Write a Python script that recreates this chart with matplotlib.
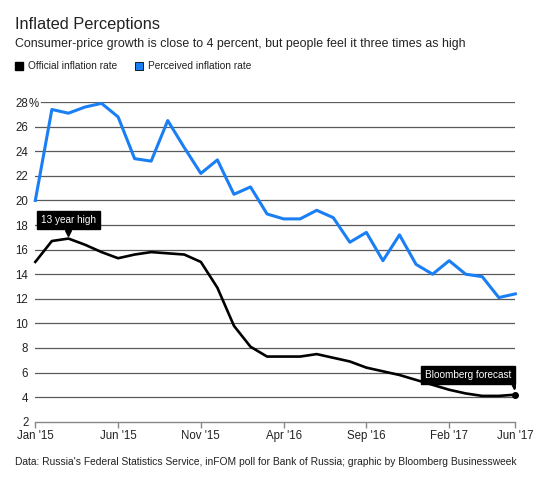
import matplotlib.pyplot as plt
import numpy as np

# monthly data, Jan 2015 .. Jun 2017
months = ["Jan '15", "Feb '15", "Mar '15", "Apr '15", "May '15", "Jun '15",
          "Jul '15", "Aug '15", "Sep '15", "Oct '15", "Nov '15", "Dec '15",
          "Jan '16", "Feb '16", "Mar '16", "Apr '16", "May '16", "Jun '16",
          "Jul '16", "Aug '16", "Sep '16", "Oct '16", "Nov '16", "Dec '16",
          "Jan '17", "Feb '17", "Mar '17", "Apr '17", "May '17", "Jun '17"]
official = [15.0, 16.7, 16.9, 16.4, 15.8, 15.3, 15.6, 15.8, 15.7, 15.6, 15.0, 12.9,
            9.8, 8.1, 7.3, 7.3, 7.3, 7.5, 7.2, 6.9, 6.4, 6.1, 5.8, 5.4,
            5.0, 4.6, 4.3, 4.1, 4.1, 4.2]
perceived = [20.0, 27.4, 27.1, 27.6, 27.9, 26.8, 23.4, 23.2, 26.5, 24.3, 22.2, 23.3,
             20.5, 21.1, 18.9, 18.5, 18.5, 19.2, 18.6, 16.6, 17.4, 15.1, 17.2, 14.8,
             14.0, 15.1, 14.0, 13.8, 12.1, 12.4]
tick_months = ["Jan '15", "Jun '15", "Nov '15", "Apr '16", "Sep '16", "Feb '17", "Jun '17"]
y_ticks = [2, 4, 6, 8, 10, 12, 14, 16, 18, 20, 22, 24, 26, 28]

BLUE = "#1a7ff5"
TXT = "#222222"
plt.rcParams['font.family'] = ['Liberation Sans', 'DejaVu Sans']

x = np.arange(len(months))

fig = plt.figure(figsize=(5.5, 4.84), dpi=100)
ax = fig.add_axes([0.0642, 0.1287, 0.8728, 0.6603])

# gridlines (top one leaves room for the % sign)
for v in y_ticks[1:]:
    start = 6 / 480 if v == y_ticks[-1] else 0
    ax.axhline(v, xmin=start, color="#5a5a5a", lw=0.9, zorder=1)

ax.plot(x, perceived, color=BLUE, lw=2.2, zorder=3, clip_on=False)
ax.plot(x, official, color="black", lw=1.9, zorder=3, clip_on=False)
ax.plot(x[-1], official[-1], "o", color="black", ms=4, zorder=4, clip_on=False)

ax.set_xlim(0, len(months) - 1)
ax.set_ylim(2, 28)

tick_pos = [months.index(m) for m in tick_months]
ax.set_xticks(tick_pos)
ax.set_xticklabels(tick_months, fontsize=8.3, color=TXT)
ax.tick_params(axis="x", length=4, width=1, color="#888888", pad=2)

ax.set_yticks(y_ticks)
ax.set_yticklabels([str(v) for v in y_ticks], fontsize=8.3, color=TXT)
ax.tick_params(axis="y", length=0, pad=5)
ax.annotate("%", xy=(0, y_ticks[-1]), xycoords=("axes fraction", "data"),
            xytext=(-5, 0), textcoords="offset points", ha="left", va="center_baseline",
            fontsize=8.3, color=TXT)

for s in ["top", "right", "left"]:
    ax.spines[s].set_visible(False)
ax.spines["bottom"].set_color("#888888")
ax.spines["bottom"].set_linewidth(1)

# annotations
peak = int(np.argmax(official))
ax.text(x[peak], official[peak] + 1.5, "13 year high", color="white", fontsize=7.2,
        ha="center", va="center", zorder=6,
        bbox=dict(boxstyle="square,pad=0.42", fc="black", ec="black"))
ax.plot(x[peak], official[peak] + 0.45, marker="v", color="black", ms=5, zorder=5)

ax.text(x[-1] - 0.25, official[-1] + 1.6, "Bloomberg forecast", color="white", fontsize=7.2,
        ha="right", va="center", zorder=6,
        bbox=dict(boxstyle="square,pad=0.42", fc="black", ec="black"))
ax.plot(x[-1] - 0.1, official[-1] + 0.7, marker="v", color="black", ms=5, zorder=5)

# header
fig.text(0.027, 1 - 25 / 484, "Inflated Perceptions", fontsize=11.8, color=TXT,
         ha="left", va="center")
fig.text(0.027, 1 - 44 / 484,
         "Consumer-price growth is close to 4 percent, but people feel it three times as high",
         fontsize=8.9, color=TXT, ha="left", va="center")

# legend
fig.patches.append(plt.Rectangle((15 / 550, 1 - 70 / 484), 8 / 550, 8 / 484,
                                 transform=fig.transFigure, fc="black", ec="black"))
fig.text(28 / 550, 1 - 66 / 484, "Official inflation rate", fontsize=7.3, color=TXT,
         ha="left", va="center")
fig.patches.append(plt.Rectangle((135 / 550, 1 - 70 / 484), 8 / 550, 8 / 484,
                                 transform=fig.transFigure, fc=BLUE, ec="black", lw=0.6))
fig.text(148 / 550, 1 - 66 / 484, "Perceived inflation rate", fontsize=7.3, color=TXT,
         ha="left", va="center")

# footer
fig.text(0.027, 1 - 462 / 484,
         "Data: Russia's Federal Statistics Service, inFOM poll for Bank of Russia; graphic by Bloomberg Businessweek",
         fontsize=7.4, color=TXT, ha="left", va="center")

fig.savefig("out.png", dpi=100)
